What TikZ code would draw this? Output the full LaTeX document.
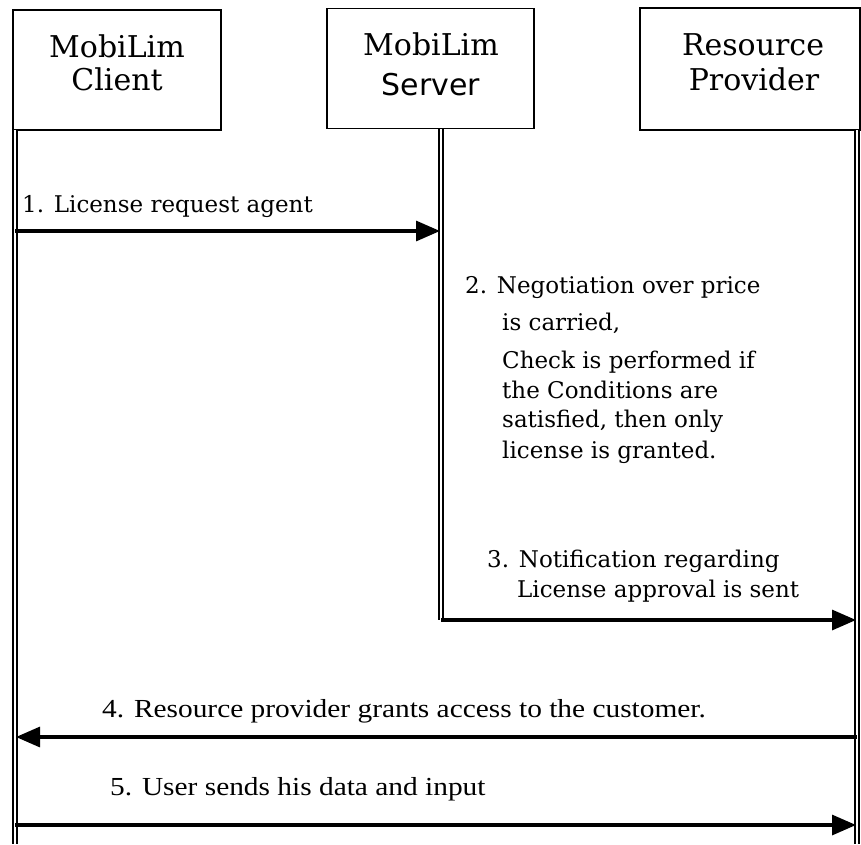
\documentclass[tikz,border=0pt]{standalone}
\usepackage{fontspec}
\usetikzlibrary{arrows.meta}
\newfontfamily\hdrfont{DejaVu Serif}
\newfontfamily\hdrsans{DejaVu Sans}
\newfontfamily\msgfont{DejaVu Serif}
\newfontfamily\timesfont{Liberation Serif}
\begin{document}
\begin{tikzpicture}[x=1pt,y=-1pt,
  hdrbox/.style={draw=black, line width=1.8pt, inner sep=0pt},
  hdrtext/.style={anchor=base, inner sep=0pt, font=\hdrfont\fontsize{30}{34}\selectfont},
  lifeline/.style={draw=black, double=white, line width=1.4pt, double distance=2.6pt},
  msg/.style={draw=black, line width=3.2pt, -{Triangle[length=24pt,width=20pt]}},
  msgtext/.style={anchor=base west, inner sep=0pt, font=\msgfont\fontsize{23}{27}\selectfont},
  msgtextb/.style={anchor=base west, inner sep=0pt, font=\timesfont\fontsize{26}{30}\selectfont}]
\useasboundingbox (0,0) rectangle (861,844);
\fill[white] (0,0) rectangle (861,844);
% header boxes
\node[hdrbox, minimum width=208pt, minimum height=120pt] (client) at (117,70) {};
\node[hdrbox, minimum width=207pt, minimum height=120pt] (server) at (430.5,68.5) {};
\node[hdrbox, minimum width=220pt, minimum height=122pt] (provider) at (750,69) {};
\node[hdrtext] (clientA) at (117,57) {MobiLim};
\node[hdrtext] (clientB) at (117,90) {Client};
\node[hdrtext] (serverA) at (431,55) {MobiLim};
\node[hdrtext, font=\hdrsans\fontsize{30}{34}\selectfont] (serverB) at (431,95) {Server};
\node[hdrtext] (provA) at (753,55) {Resource};
\node[hdrtext] (provB) at (754,90) {Provider};
% lifeline anchors
\coordinate (cTop) at (15,130);
\coordinate (cBot) at (15,844);
\coordinate (sTop) at (441,129);
\coordinate (sBot) at (441,620);
\coordinate (pTop) at (857,130);
\coordinate (pBot) at (857,844);
\draw[lifeline] (cTop) -- (cBot);
\draw[lifeline] (sTop) -- (sBot);
\draw[lifeline] (pTop) -- (pBot);
% message end points
\coordinate (c1) at (15,231);
\coordinate (s1) at (440,231);
\coordinate (s3) at (441,620);
\coordinate (p3) at (856,620);
\coordinate (p4) at (857,737);
\coordinate (c4) at (16,737);
\coordinate (c5) at (15,825);
\coordinate (p5) at (856,825);
\draw[msg] (c1) -- (s1);
\draw[msg] (s3) -- (p3);
\draw[msg] (p4) -- (c4);
\draw[msg] (c5) -- (p5);
% texts
\node[msgtext] (t1) at (22,212) {1. License request agent};
\node[msgtext] (t2a) at (465,293) {2. Negotiation over price};
\node[msgtext] (t2b) at (502,330) {is carried,};
\node[msgtext] (t2c) at (502,368) {Check is performed if};
\node[msgtext] (t2d) at (502,398) {the Conditions are};
\node[msgtext] (t2e) at (502,427) {satisfied, then only};
\node[msgtext] (t2f) at (502,458) {license is granted.};
\node[msgtext] (t3a) at (487,567) {3. Notification regarding};
\node[msgtext] (t3b) at (517,597) {License approval is sent};
\node[msgtextb] (t4) at (102,717) {\scalebox{1.13}[1]{4. Resource provider grants access to the customer.}};
\node[msgtextb] (t5) at (110,795) {\scalebox{1.13}[1]{5. User sends his data and input}};
\end{tikzpicture}
\end{document}
